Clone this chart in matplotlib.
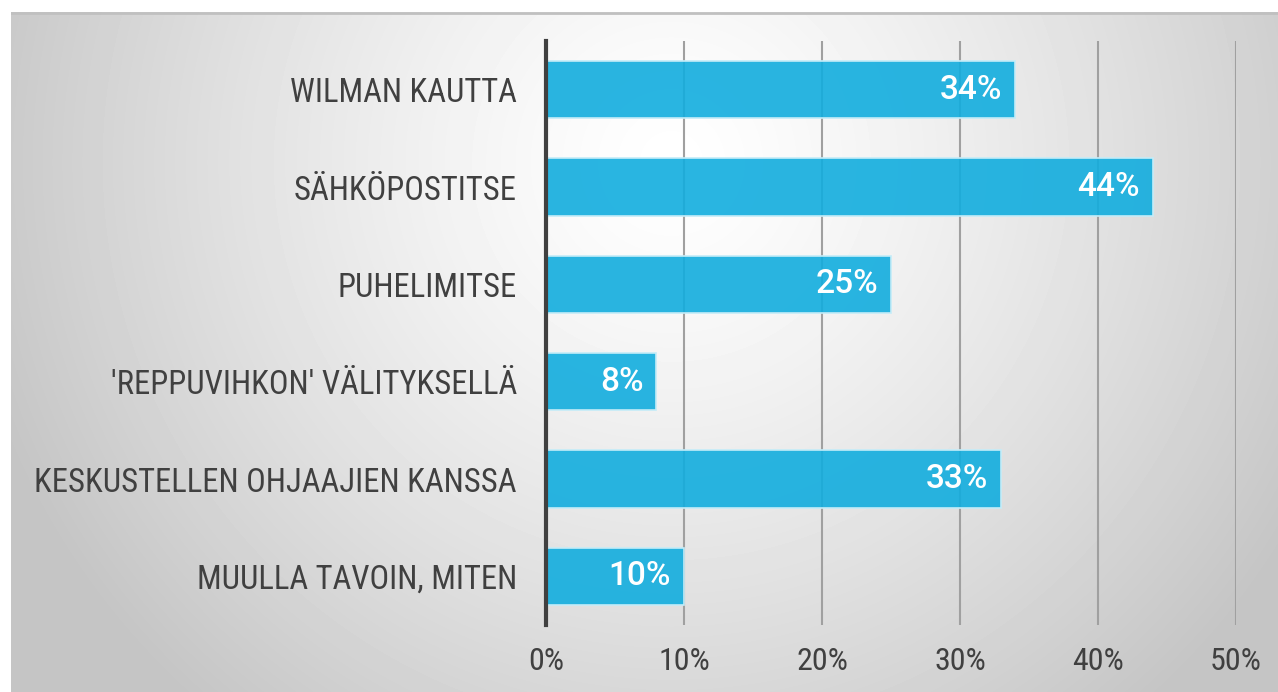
import numpy as np
import matplotlib
matplotlib.use("Agg")
import matplotlib.pyplot as plt
from matplotlib.ticker import FuncFormatter

categories = ["WILMAN KAUTTA", "SÄHKÖPOSTITSE", "PUHELIMITSE",
              "'REPPUVIHKON' VÄLITYKSELLÄ", "KESKUSTELLEN OHJAAJIEN KANSSA",
              "MUULLA TAVOIN, MITEN"]
values = [34, 44, 25, 8, 33, 10]
xticks = [0, 10, 20, 30, 40, 50]

FONT = ['Liberation Sans Narrow', 'Roboto Condensed', 'DejaVu Sans']
plt.rcParams['font.family'] = FONT

W, H = 1278, 692
fig = plt.figure(figsize=(W/100, H/100), dpi=100)
fig.patch.set_facecolor('white')

# background radial gradient
bg = fig.add_axes([11/W, 0, 1 - 11/W, 1 - 12/H], zorder=0)
yy, xx = np.mgrid[0:680, 0:1267]
cx, cy = 660, 150
r = np.sqrt(((xx - cx) / 700.0) ** 2 + ((yy - cy) / 700.0) ** 2)
val = np.clip(1.0 - 0.22 * r ** 1.3, 0.77, 1.0)
bg.imshow(val, cmap='gray', vmin=0, vmax=1, aspect='auto', interpolation='bilinear')
bg.axhline(0, color='#c0c0c0', lw=2)
bg.axis('off')

ax = fig.add_axes([546/W, 1 - 625/H, (1236 - 546)/W, (625 - 41)/H], zorder=1)
ax.patch.set_alpha(0)
y = np.arange(len(categories))
bars = ax.barh(y, values, height=0.59, color=(0.07, 0.68, 0.87, 0.9),
               edgecolor='#c4ecf8', linewidth=1.2, zorder=3)
ax.set_ylim(len(categories) - 0.5, -0.5)
ax.set_xlim(0, 50)
ax.set_xticks(xticks)
ax.xaxis.set_major_formatter(FuncFormatter(lambda v, p: f"{int(v)}%"))
ax.set_yticks(y)
ax.set_yticklabels(categories)
ax.grid(axis='x', color='#a0a0a0', lw=1.5, zorder=1)
for s in ['top', 'right', 'bottom']:
    ax.spines[s].set_visible(False)
ax.spines['left'].set_color('#404040')
ax.spines['left'].set_linewidth(3)
ax.spines['left'].set_zorder(4)
ax.tick_params(axis='both', length=0, labelcolor='#404040')
ax.tick_params(axis='y', pad=21, labelsize=23.5)
ax.tick_params(axis='x', pad=16, labelsize=23)

for b, v in zip(bars, values):
    ax.text(b.get_width() - 0.95, b.get_y() + b.get_height()/2, f"{v}%",
            ha='right', va='center', color='white', fontsize=24,
            family=['Roboto', 'DejaVu Sans'], fontweight='medium', zorder=5)

fig.savefig('out.png', dpi=100)
